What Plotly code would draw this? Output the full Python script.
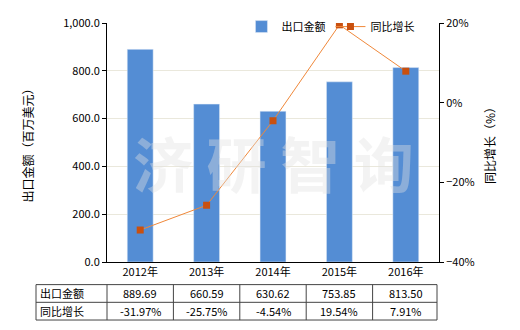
import plotly.graph_objects as go

years = ["2012年", "2013年", "2014年", "2015年", "2016年"]
export_values = [889.69, 660.59, 630.62, 753.85, 813.50]
growth = [-31.97, -25.75, -4.54, 19.54, 7.91]
row_names = ["出口金额", "同比增长"]

FONT = "Noto Sans CJK SC"
W, H = 520, 330
L, R, T, B = 107, 81, 19, 68
pw, ph = W - L - R, H - T - B

def px_x(p):
    return (p - L) / pw

def px_y(p):
    return (H - B - p) / ph

fig = go.Figure()
fig.add_trace(go.Bar(x=years, y=export_values, name="出口金额", marker_color="#548DD4",
                     width=0.39, yaxis="y"))
fig.add_trace(go.Scatter(x=years, y=growth, name="同比增长", yaxis="y2", mode="lines+markers",
                         line=dict(color="#F0883A", width=1),
                         marker=dict(symbol="square", size=7, color="#C9500F")))

fig.update_layout(
    width=W, height=H, margin=dict(l=L, r=R, t=T, b=B),
    paper_bgcolor="white", plot_bgcolor="white",
    font=dict(family=FONT, size=11, color="#000"),
    showlegend=True,
    legend=dict(orientation="h", x=0.405, y=0.985, xanchor="left", yanchor="middle",
                font=dict(size=11), bgcolor="rgba(0,0,0,0)", itemwidth=30),
    bargap=0.6,
    xaxis=dict(showline=True, linecolor="#000", linewidth=1, ticks="", showgrid=False,
               tickfont=dict(size=11)),
    yaxis=dict(range=[0, 1000], dtick=200, tickformat=",.1f", showline=True, linecolor="#000",
               ticks="outside", ticklen=4, tickcolor="#000", gridcolor="#EAE8DC",
               title=dict(text="出口金额（百万美元）", font=dict(size=12), standoff=26)),
    yaxis2=dict(range=[-40, 20], dtick=20, ticksuffix="%", overlaying="y", side="right",
                showline=True, linecolor="#000", ticks="outside", ticklen=4, tickcolor="#000",
                showgrid=False, zeroline=False,
                title=dict(text="同比增长（%）", font=dict(size=12), standoff=12)),
)

# watermark
fig.add_annotation(text="<b>济 研 智 询</b>", xref="paper", yref="paper", x=0.5, y=0.42,
                   showarrow=False, font=dict(size=60, color="rgba(225,225,225,0.4)", family=FONT))

# table
top, mid, bot = px_y(285), px_y(303), px_y(321)
left = px_x(36)
right = px_x(437)
line = dict(color="#444", width=1)
for yy in (top, mid, bot):
    fig.add_shape(type="line", xref="paper", yref="paper", x0=left, x1=right, y0=yy, y1=yy, line=line)
n = len(years)
xs = [left] + [i / n for i in range(n)] + [right]
for xx in xs:
    fig.add_shape(type="line", xref="paper", yref="paper", x0=xx, x1=xx, y0=top, y1=bot, line=line)

rows = [[f"{v:.2f}" for v in export_values], [f"{g:.2f}%" for g in growth]]
ycent = [(top + mid) / 2, (mid + bot) / 2]
for r, name in enumerate(row_names):
    fig.add_annotation(text=name, xref="paper", yref="paper", x=left + 0.005, y=ycent[r],
                       xanchor="left", yanchor="middle", showarrow=False, font=dict(size=11))
    for i, txt in enumerate(rows[r]):
        fig.add_annotation(text=txt, xref="paper", yref="paper", x=(i + 0.5) / n, y=ycent[r],
                           xanchor="center", yanchor="middle", showarrow=False, font=dict(size=11))

fig.write_html("out.html")
